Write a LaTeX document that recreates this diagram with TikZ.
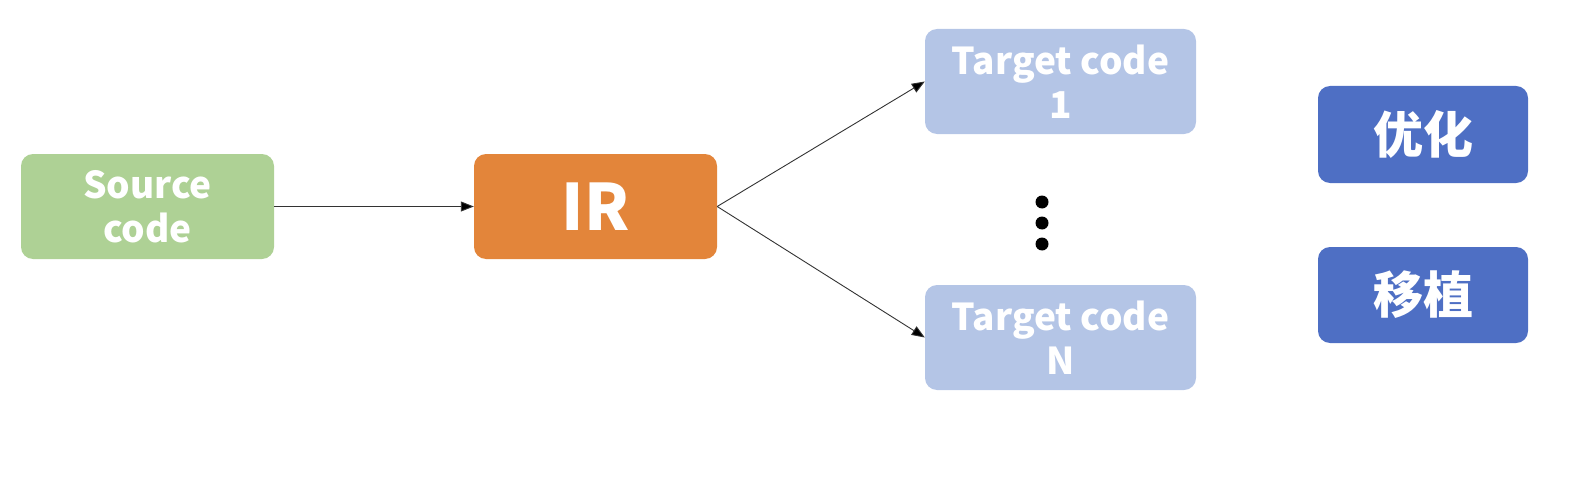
\documentclass[tikz,border=0pt]{standalone}
\usepackage{fontspec}
\setmainfont{Noto Sans CJK SC}
\usetikzlibrary{arrows.meta}
\definecolor{srcgreen}{HTML}{AED195}
\definecolor{irorange}{HTML}{E3853A}
\definecolor{tgtblue}{HTML}{B4C5E6}
\definecolor{keyblue}{HTML}{4E6FC4}
\definecolor{linegray}{HTML}{333333}
\begin{document}
\begin{tikzpicture}[x=1pt,y=-1pt,
  box/.style={rectangle, rounded corners=12pt, inner sep=0pt, text=white,
    font=\bfseries\fontsize{37}{44}\selectfont, align=center},
  conn/.style={draw=linegray, line width=0.9pt, -{Triangle[length=13pt,width=10pt,fill=black]}},
  dot/.style={circle, fill=black, inner sep=0pt, minimum size=13pt}]
\useasboundingbox (0,0) rectangle (1586,500);
\node[box, fill=srcgreen, minimum width=253pt, minimum height=105pt] (src) at (147.5,206.5) {Source\\code};
\node[box, fill=irorange, minimum width=243pt, minimum height=105pt, font=\bfseries\fontsize{64}{70}\selectfont] (ir) at (595.5,206.5) {IR};
\node[box, fill=tgtblue, minimum width=271pt, minimum height=105pt] (t1) at (1060.5,81.5) {Target code\\1};
\node[box, fill=tgtblue, minimum width=271pt, minimum height=105pt] (tn) at (1060.5,337.5) {Target code\\N};
\node[dot] (d1) at (1042,202) {};
\node[dot] (d2) at (1042,223) {};
\node[dot] (d3) at (1042,244) {};
\node[box, fill=keyblue, minimum width=210pt, minimum height=97pt, font=\bfseries\fontsize{50}{56}\selectfont] (opt) at (1423,134.5) {优化};
\node[box, fill=keyblue, minimum width=210pt, minimum height=96pt, font=\bfseries\fontsize{50}{56}\selectfont] (port) at (1423,295) {移植};
\draw[conn] (src.east) -- (ir.west);
\draw[conn] (ir.east) -- (t1.west);
\draw[conn] (ir.east) -- (tn.west);
\end{tikzpicture}
\end{document}
